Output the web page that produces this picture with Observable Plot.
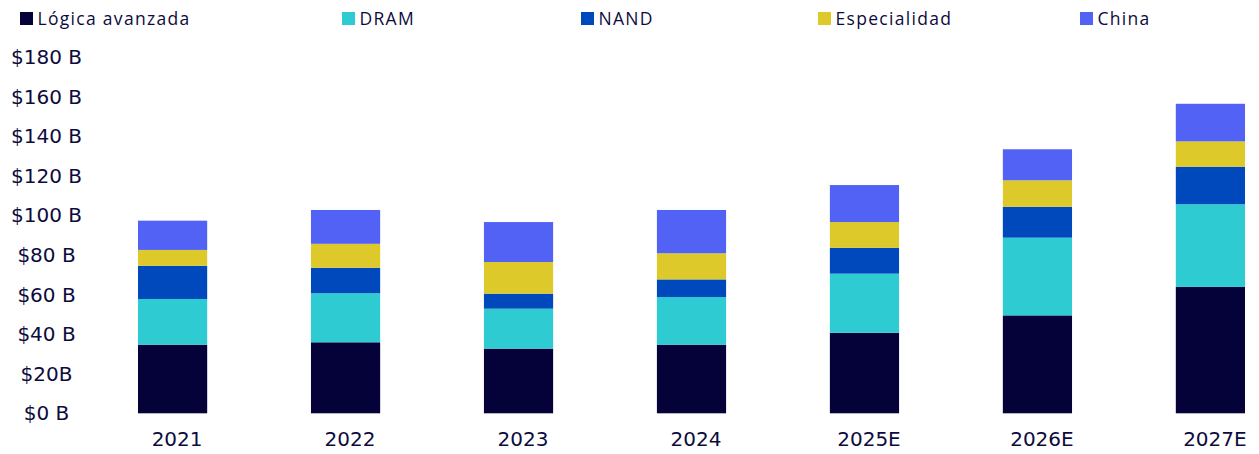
<!DOCTYPE html>
<html>
<head>
<meta charset="utf-8">
<script src="https://cdn.jsdelivr.net/npm/d3@7"></script>
<script src="https://cdn.jsdelivr.net/npm/@observablehq/plot@0.6"></script>
<style>
  html, body { margin: 0; padding: 0; background: #fff; }
  #legend { position: relative; width: 1259px; height: 36px; font-family: "Open Sans", sans-serif; font-size: 17.5px; letter-spacing: 1.3px; color: #0d0b3d; }
  .item { position: absolute; top: -1px; height: 38px; display: flex; align-items: center; white-space: nowrap; }
  .sw { width: 12.5px; height: 12.5px; margin-right: 5px; margin-top: 1px; }
  svg { display: block; }
</style>
</head>
<body>
<div id="legend"></div>
<div id="chart"></div>
<script>
const years = ["2021", "2022", "2023", "2024", "2025E", "2026E", "2027E"];
const seriesNames = ["Lógica avanzada", "DRAM", "NAND", "Especialidad", "China"];
const logica = [34.7, 35.9, 32.7, 34.7, 40.7, 49.5, 63.9];
const dram = [23.1, 24.8, 20.2, 24.1, 29.9, 39.3, 41.8];
const nand = [16.8, 12.9, 7.6, 8.9, 13.1, 15.6, 19.0];
const especialidad = [8.0, 12.1, 16.0, 13.2, 13.0, 13.4, 12.8];
const china = [14.8, 17.1, 20.2, 21.9, 18.7, 15.7, 19.0];
const yTickValues = [0, 20, 40, 60, 80, 100, 120, 140, 160, 180];
const yTickLabels = ["$0 B", "$20B", "$40 B", "$60 B", "$80 B", "$100 B", "$120 B", "$140 B", "$160 B", "$180 B"];

const colors = ["#05023a", "#2ecbd2", "#0049bc", "#ddc92a", "#5262f5"];
const legendLeft = [20, 342, 581, 818, 1080];

const seriesValues = [logica, dram, nand, especialidad, china];
const data = [];
seriesNames.forEach((s, i) => {
  years.forEach((y, j) => data.push({ year: y, series: s, value: seriesValues[i][j] }));
});

// legend
const legend = document.getElementById("legend");
seriesNames.forEach((s, i) => {
  const it = document.createElement("div");
  it.className = "item";
  it.style.left = legendLeft[i] + "px";
  const sw = document.createElement("div");
  sw.className = "sw";
  sw.style.background = colors[i];
  const tx = document.createElement("span");
  tx.textContent = s;
  it.appendChild(sw);
  it.appendChild(tx);
  legend.appendChild(it);
});

const textColor = "#0d0b3d";
const chart = Plot.plot({
  width: 1259,
  height: 418,
  marginLeft: 138,
  marginRight: 14,
  marginTop: 21.3,
  marginBottom: 40.7,
  style: { fontFamily: "DejaVu Sans, sans-serif", fontSize: "20px", color: textColor, background: "#fff" },
  x: { domain: years, paddingInner: 0.6, paddingOuter: 0, align: 0.5, round: false, label: null },
  y: { domain: [0, 180], label: null },
  color: { domain: seriesNames, range: colors },
  marks: [
    Plot.barY(data, Plot.stackY({ order: seriesNames }, { x: "year", y: "value", fill: "series", z: "series" })),
    Plot.axisY({ ticks: yTickValues, tickSize: 0, tickPadding: 0, textAnchor: "middle", dx: -92,
      tickFormat: d => yTickLabels[yTickValues.indexOf(d)], fill: textColor, fontSize: 20, label: null }),
    Plot.axisX({ tickSize: 0, tickPadding: 18, dx: 4, fill: textColor, fontSize: 20, label: null })
  ]
});
document.getElementById("chart").appendChild(chart);
</script>
</body>
</html>
